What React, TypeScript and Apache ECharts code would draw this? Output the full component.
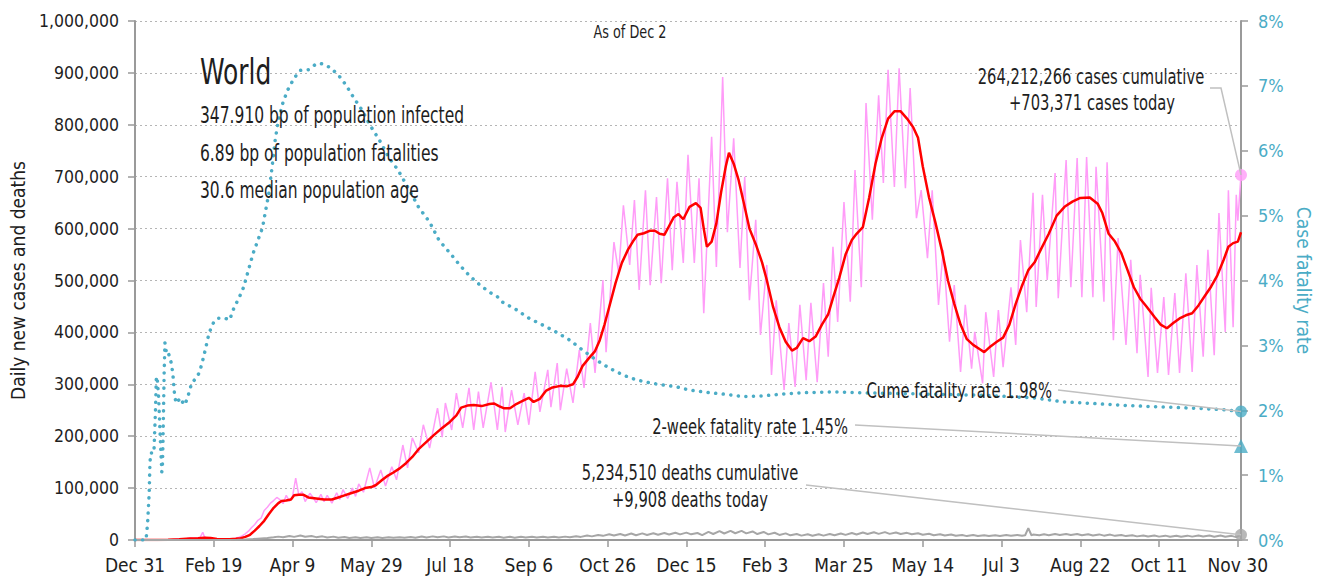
import React, { useEffect, useRef } from "react";
import * as echarts from "echarts";

const FONT = '"DejaVu Sans Condensed", "Liberation Sans", sans-serif';

const xTickLabels = ["Dec 31", "Feb 19", "Apr 9", "May 29", "Jul 18", "Sep 6", "Oct 26", "Dec 15", "Feb 3", "Mar 25", "May 14", "Jul 3", "Aug 22", "Oct 11", "Nov 30"];
const leftTickLabels = ["0", "100,000", "200,000", "300,000", "400,000", "500,000", "600,000", "700,000", "800,000", "900,000", "1,000,000"];
const rightTickLabels = ["0%", "1%", "2%", "3%", "4%", "5%", "6%", "7%", "8%"];

// day index (0 = Dec 31, 2019), daily new cases
const dailyCases: [number, number][] = [
  [0,0],[10,0],[17,30],[20,100],[23,500],[25,800],[27,1800],[29,2100],[31,2600],[33,3100],[35,3900],[37,3400],[39,3900],[41,3000],[43,15000],[44,6500],[46,2500],[48,2000],[50,700],[52,1500],[54,1800],[56,1300],[58,1600],[60,1900],[62,2300],[64,3300],[66,5500],[68,8000],[70,12000],[72,17000],[74,24000],[76,30000],[78,38000],[80,42000],[82,57000],[84,63000],[86,71000],[88,76000],[90,82000],[92,78000],[94,70000],[96,86000],[98,75000],[100,84000],[102,119000],[104,86000],[106,93000],[108,74000],[111,90000],[113,82000],[115,72000],[118,88000],[120,74000],[122,86000],[125,71000],[128,91000],[130,78000],[132,97000],[135,80000],[138,100000],[140,84000],[142,108000],[145,92000],[149,139000],[152,100000],[156,135000],[159,104000],[163,141000],[166,116000],[170,183000],[173,139000],[176,197000],[180,168000],[183,222000],[187,177000],[192,254000],[195,198000],[197,264000],[201,212000],[204,283000],[208,216000],[212,293000],[215,212000],[218,286000],[221,216000],[226,304000],[230,212000],[233,295000],[235,208000],[239,289000],[243,222000],[247,283000],[250,222000],[254,324000],[257,247000],[262,328000],[264,256000],[268,341000],[270,250000],[274,330000],[278,264000],[282,366000],[285,293000],[289,418000],[292,322000],[297,501000],[299,362000],[304,574000],[307,514000],[310,645000],[314,530000],[317,655000],[320,482000],[324,674000],[327,491000],[331,661000],[334,495000],[338,697000],[341,520000],[344,690000],[348,534000],[351,742000],[355,534000],[358,697000],[361,437000],[366,777000],[369,526000],[373,892000],[376,593000],[380,774000],[384,524000],[387,700000],[390,462000],[394,617000],[397,395000],[401,530000],[404,318000],[407,462000],[412,289000],[415,418000],[419,295000],[422,453000],[426,308000],[429,457000],[433,304000],[437,495000],[440,353000],[443,565000],[446,420000],[450,651000],[454,459000],[457,713000],[461,487000],[464,842000],[468,617000],[472,857000],[475,688000],[478,906000],[482,680000],[485,909000],[489,678000],[492,871000],[496,620000],[499,674000],[503,543000],[506,674000],[510,453000],[513,559000],[517,382000],[520,491000],[524,324000],[527,453000],[531,330000],[533,401000],[538,302000],[540,439000],[545,314000],[548,443000],[551,333000],[556,487000],[559,376000],[562,578000],[566,439000],[570,669000],[572,449000],[576,665000],[579,501000],[584,707000],[586,466000],[591,732000],[594,487000],[598,736000],[601,468000],[604,738000],[608,468000],[610,719000],[615,459000],[617,728000],[621,385000],[624,582000],[629,376000],[632,540000],[636,360000],[638,511000],[643,314000],[645,486000],[649,322000],[653,468000],[656,318000],[660,476000],[663,322000],[667,514000],[671,324000],[674,530000],[678,353000],[681,559000],[685,356000],[688,630000],[692,401000],[694,674000],[697,410000],[699,665000],[700,615000],[702,703371]
];

// 7-day average of new cases
const avgCases: [number, number][] = [
  [0,0],[14,50],[21,300],[28,1500],[35,2800],[40,3500],[44,4200],[48,3800],[52,2000],[56,1500],[60,1500],[64,2200],[67,3500],[70,6000],[73,10000],[76,18000],[79,27000],[82,37000],[85,50000],[88,62000],[91,71000],[93,75000],[96,76000],[99,78000],[101,86000],[104,87000],[107,87000],[110,82000],[115,80000],[120,78000],[125,78000],[129,82000],[133,86000],[137,90000],[142,95000],[146,100000],[150,102000],[153,106000],[157,116000],[160,123000],[164,130000],[168,138000],[172,148000],[176,160000],[180,175000],[185,189000],[190,203000],[195,216000],[200,228000],[204,240000],[207,255000],[211,259000],[215,260000],[220,258000],[225,262000],[228,263000],[231,258000],[234,254000],[238,254000],[242,262000],[246,268000],[250,274000],[253,266000],[257,272000],[261,288000],[265,294000],[270,297000],[274,296000],[278,300000],[281,315000],[284,335000],[288,350000],[292,364000],[295,385000],[298,415000],[301,449000],[305,495000],[309,534000],[313,560000],[316,575000],[319,588000],[323,591000],[327,596000],[330,596000],[333,590000],[336,588000],[339,605000],[342,622000],[345,628000],[348,618000],[352,642000],[356,649000],[359,640000],[361,600000],[363,565000],[366,575000],[369,610000],[372,670000],[375,720000],[377,746000],[380,725000],[383,695000],[386,655000],[390,600000],[394,570000],[398,535000],[401,501000],[405,449000],[409,410000],[413,382000],[417,365000],[420,370000],[424,389000],[428,383000],[432,392000],[436,415000],[440,435000],[443,466000],[447,505000],[451,550000],[455,578000],[458,590000],[462,603000],[466,660000],[470,725000],[474,775000],[478,812000],[482,826000],[486,826000],[490,812000],[494,795000],[497,775000],[500,720000],[504,660000],[508,612000],[512,560000],[516,500000],[520,455000],[524,415000],[528,387000],[532,376000],[536,368000],[539,362000],[543,373000],[547,382000],[551,390000],[555,415000],[559,455000],[563,490000],[567,520000],[571,535000],[575,560000],[580,590000],[585,625000],[590,642000],[595,652000],[600,659000],[606,660000],[611,648000],[614,630000],[618,590000],[622,575000],[626,553000],[630,520000],[634,487000],[638,465000],[642,450000],[647,430000],[651,415000],[655,408000],[659,418000],[663,427000],[667,433000],[671,437000],[675,452000],[679,470000],[683,488000],[687,510000],[691,540000],[694,565000],[697,572000],[700,575000],[702,593000]
];

// daily deaths
const dailyDeaths: [number, number][] = [
  [0,0],[20,20],[30,50],[40,100],[45,150],[50,80],[55,60],[60,200],[65,400],[70,1000],[75,1800],[80,3000],[84,3800],[88,5200],[91,6500],[94,5200],[98,7800],[101,6000],[105,8500],[108,6200],[112,7600],[115,5500],[119,7000],[122,4800],[126,6500],[129,4300],[133,5800],[136,3800],[140,5400],[143,3900],[147,5300],[150,3800],[154,5200],[157,4000],[161,5300],[164,4200],[168,5400],[171,4500],[175,5800],[178,4400],[182,6600],[185,4800],[189,7000],[192,5200],[196,7000],[199,5000],[203,6800],[206,5300],[210,6700],[213,5000],[217,6400],[220,4900],[224,6400],[227,4700],[231,6200],[234,4500],[238,6100],[241,4500],[245,6200],[248,4800],[252,6100],[255,4700],[259,6300],[262,4800],[266,6400],[269,4900],[273,6500],[276,5400],[280,7200],[283,6000],[287,8500],[290,7000],[294,9800],[297,8000],[301,11000],[304,8600],[308,11600],[311,8800],[315,12400],[318,9200],[322,12800],[325,9600],[329,13000],[332,10000],[336,13500],[339,10500],[343,14000],[346,10800],[350,14200],[353,10900],[357,13500],[360,9500],[364,15500],[367,11500],[371,17000],[374,12500],[378,17500],[381,13000],[385,17500],[388,12800],[392,16500],[395,11500],[399,15500],[402,10800],[406,14000],[409,9800],[413,12800],[416,9000],[420,11600],[423,8400],[427,11000],[430,8200],[434,11000],[437,8400],[441,11500],[444,9000],[448,12600],[451,9800],[455,13600],[458,10600],[462,14500],[465,11500],[469,15000],[472,11800],[476,15200],[479,11800],[483,14500],[486,11500],[490,13800],[493,11000],[497,13000],[500,10200],[504,12000],[507,9200],[511,11000],[514,8600],[518,10500],[521,8200],[525,9500],[528,7500],[532,9500],[535,7800],[539,9200],[542,7800],[546,9200],[549,7800],[553,9500],[556,8000],[560,9800],[563,8000],[565,9200],[567,23000],[569,9200],[570,10500],[574,9000],[577,11000],[580,9300],[584,11600],[587,9500],[591,11600],[594,9600],[598,11500],[601,9000],[605,11000],[608,8800],[612,10800],[615,8400],[619,10400],[622,8000],[626,9800],[629,7500],[633,9000],[636,7000],[640,8800],[643,6600],[647,8600],[650,6500],[654,8400],[657,6400],[661,8300],[664,6400],[668,8400],[671,6500],[675,8500],[678,6600],[682,8600],[685,6400],[689,8700],[692,6200],[696,8000],[699,5500],[702,9908]
];

// cumulative case fatality rate, %
const fatalityRate: [number, number][] = [
  [0,0],[7,0],[8,0.26],[9,0.72],[9.5,1.19],[10,1.34],[12,1.34],[13,2.0],[13.5,2.47],[14,2.52],[15,2.2],[16,1.6],[17,1.05],[17.5,1.19],[18,1.85],[18.5,2.57],[19,3.04],[20,2.88],[21,2.9],[23,2.73],[24,2.57],[25,2.27],[26,2.11],[29,2.19],[31,2.08],[33,2.16],[36,2.42],[39,2.5],[41,2.59],[43,2.77],[45,2.97],[47,3.19],[50,3.36],[53,3.42],[57,3.42],[60,3.39],[63,3.59],[66,3.73],[69,3.9],[72,4.16],[75,4.42],[78,4.62],[81,4.82],[83,5.09],[85,5.35],[87,5.75],[89,6.17],[91,6.47],[94,6.75],[97,6.94],[101,7.12],[105,7.24],[110,7.25],[114,7.32],[117,7.35],[120,7.33],[124,7.28],[129,7.17],[134,7.01],[139,6.81],[144,6.63],[149,6.4],[155,6.17],[161,5.9],[167,5.7],[174,5.4],[180,5.13],[187,4.9],[193,4.62],[200,4.42],[206,4.24],[212,4.08],[219,3.93],[225,3.82],[230,3.75],[233,3.67],[242,3.55],[250,3.42],[259,3.31],[267,3.21],[276,3.08],[284,2.93],[293,2.77],[301,2.65],[310,2.54],[318,2.47],[327,2.42],[335,2.39],[344,2.36],[352,2.31],[365,2.27],[377,2.24],[386,2.21],[398,2.22],[411,2.25],[424,2.27],[437,2.28],[449,2.28],[459,2.27],[480,2.26],[500,2.25],[520,2.24],[540,2.23],[555,2.21],[571,2.19],[589,2.13],[611,2.1],[632,2.07],[653,2.05],[674,2.03],[690,2.01],[702,1.98]
];

const lastDay = 702;
const casesToday = 703371;
const cumeRate = 1.98;
const twoWeekRate = 1.45;
const deathsToday = 9908;

const infoLines = ["347.910 bp of population infected", "6.89 bp of population fatalities", "30.6 median population age"];

const PINK = "#ff9cf8";
const RED = "#ff0000";
const TEAL = "#4bacc6";
const GRAY = "#a6a6a6";
const AXIS = "#9a9a9a";
const INK = "#1e1e1e";

export default function App() {
  const ref = useRef<HTMLDivElement>(null);
  useEffect(() => {
    document.body.style.margin = "0";
    const chart = echarts.init(ref.current!, null, { renderer: "svg" });
    const option: any = {
      animation: false,
      textStyle: { fontFamily: FONT },
      grid: { left: 135, right: 76, top: 21, bottom: 39, containLabel: false, outerBoundsMode: "none" },
      xAxis: {
        type: "value", min: 0, max: lastDay, interval: 50,
        axisLine: { show: true, onZero: false, lineStyle: { color: AXIS, width: 2 } },
        axisTick: { show: true, length: 7, lineStyle: { color: AXIS, width: 1.5 } },
        axisLabel: {
          fontSize: 19, color: INK, fontFamily: FONT, margin: 15,
          showMaxLabel: false,
          formatter: (v: number) => (v % 50 === 0 ? xTickLabels[v / 50] ?? "" : ""),
        },
        splitLine: { show: false },
      },
      yAxis: [
        {
          type: "value", min: 0, max: 1000000, interval: 100000, position: "left",
          name: "Daily new cases and deaths", nameLocation: "middle", nameGap: 106,
          nameTextStyle: { fontSize: 19, color: INK, fontFamily: FONT },
          axisLine: { show: true, lineStyle: { color: AXIS, width: 2 } },
          axisTick: { show: true, length: 7, lineStyle: { color: AXIS, width: 1.5 } },
          axisLabel: { fontSize: 17.5, color: INK, fontFamily: FONT, margin: 16,
            formatter: (v: number) => leftTickLabels[Math.round(v / 100000)] ?? "" },
          splitLine: { show: true, lineStyle: { color: "#b5b5b5", type: [2, 3], width: 1.2 } },
        },
        {
          type: "value", min: 0, max: 8, interval: 1, position: "right",
          name: "Case fatality rate", nameLocation: "middle", nameGap: 43, nameRotate: -90,
          nameTextStyle: { fontSize: 19, color: TEAL, fontFamily: FONT },
          axisLine: { show: true, lineStyle: { color: AXIS, width: 2 } },
          axisTick: { show: true, length: 7, lineStyle: { color: AXIS, width: 1.5 } },
          axisLabel: { fontSize: 18, color: TEAL, fontFamily: FONT, margin: 17,
            formatter: (v: number) => rightTickLabels[Math.round(v)] ?? "" },
          splitLine: { show: false },
        },
      ],
      series: [
        { type: "line", data: dailyCases, showSymbol: false, lineStyle: { color: PINK, width: 1.5 }, z: 2 },
        { type: "line", data: avgCases, showSymbol: false, lineStyle: { color: RED, width: 2.5 }, z: 3 },
        { type: "line", data: dailyDeaths, showSymbol: false, lineStyle: { color: GRAY, width: 2 }, z: 3 },
        { type: "line", yAxisIndex: 1, data: fatalityRate, showSymbol: false,
          lineStyle: { color: TEAL, width: 3.5, type: [0.1, 7.5], cap: "round" }, z: 4 },
        { type: "scatter", data: [[lastDay, casesToday]], symbol: "circle", symbolSize: 12, itemStyle: { color: PINK }, z: 6, clip: false },
        { type: "scatter", yAxisIndex: 1, data: [[lastDay, cumeRate]], symbol: "circle", symbolSize: 12, itemStyle: { color: TEAL }, z: 6, clip: false },
        { type: "scatter", yAxisIndex: 1, data: [[lastDay, twoWeekRate]], symbol: "triangle", symbolSize: 14, itemStyle: { color: TEAL }, z: 6, clip: false },
        { type: "scatter", data: [[lastDay, deathsToday]], symbol: "circle", symbolSize: 12, itemStyle: { color: GRAY }, z: 6, clip: false },
      ],
    };
    chart.setOption(option);

    const casePt = chart.convertToPixel({ xAxisIndex: 0, yAxisIndex: 0 }, [lastDay, casesToday]) as number[];
    const cumePt = chart.convertToPixel({ xAxisIndex: 0, yAxisIndex: 1 }, [lastDay, cumeRate]) as number[];
    const twoPt = chart.convertToPixel({ xAxisIndex: 0, yAxisIndex: 1 }, [lastDay, twoWeekRate]) as number[];
    const deathPt = chart.convertToPixel({ xAxisIndex: 0, yAxisIndex: 0 }, [lastDay, deathsToday]) as number[];

    const txt = (text: string, x: number, y: number, size: number, sx: number, align = "left", fill = INK) => ({
      type: "text", x, y, z: 10, scaleX: sx, scaleY: 1,
      style: { text, fill, fontSize: size, fontFamily: FONT, align, verticalAlign: "middle", textAlign: align, textVerticalAlign: "middle" },
    });
    const conn = { stroke: "#c0c0c0", lineWidth: 1.5 };

    chart.setOption({
      graphic: [
        txt("World", 200, 72, 36, 0.77),
        ...infoLines.map((s, i) => txt(s, 200, [115, 153, 190][i], 23, 0.75)),
        txt("As of Dec 2", 630, 32, 17, 0.84, "center"),
        txt("264,212,266 cases cumulative", 1091, 77, 21, 0.78, "center"),
        txt("+703,371 cases today", 1092, 103, 21, 0.78, "center"),
        txt("Cume fatality rate 1.98%", 1052, 391, 21, 0.78, "right"),
        txt("2-week fatality rate 1.45%", 848, 427, 21, 0.78, "right"),
        txt("5,234,510 deaths cumulative", 690, 473, 21, 0.78, "center"),
        txt("+9,908 deaths today", 690, 500, 21, 0.78, "center"),
        { type: "polyline", z: 9, shape: { points: [[1210, 88], [1221, 88], casePt] }, style: { ...conn, fill: null } },
        { type: "line", z: 9, shape: { x1: 1058, y1: 390, x2: cumePt[0], y2: cumePt[1] }, style: conn },
        { type: "line", z: 9, shape: { x1: 855, y1: 425, x2: twoPt[0], y2: twoPt[1] }, style: conn },
        { type: "line", z: 9, shape: { x1: 806, y1: 485, x2: deathPt[0], y2: deathPt[1] }, style: conn },
      ],
    });
    return () => chart.dispose();
  }, []);
  return <div ref={ref} style={{ position: "absolute", left: 0, top: 0, width: 1317, height: 579 }} />;
}
